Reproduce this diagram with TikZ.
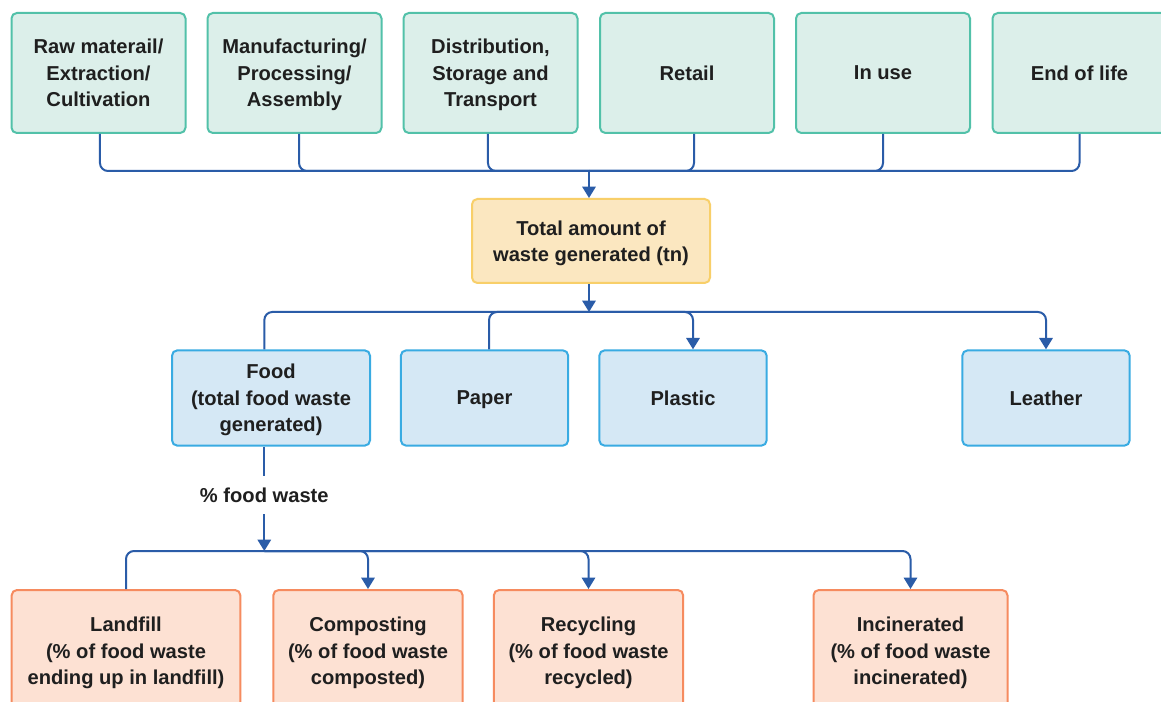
\documentclass[tikz,border=0pt]{standalone}
\usepackage{fontspec}
\setmainfont{Liberation Sans}
\usetikzlibrary{arrows.meta}
\definecolor{txt}{HTML}{1F1F1F}
\definecolor{linec}{HTML}{2A5CA8}
\definecolor{tealfill}{HTML}{DCEFEA}
\definecolor{tealdraw}{HTML}{52C1A9}
\definecolor{yelfill}{HTML}{FBE7C0}
\definecolor{yeldraw}{HTML}{F8CF69}
\definecolor{bluefill}{HTML}{D5E8F5}
\definecolor{bluedraw}{HTML}{39ABE2}
\definecolor{peachfill}{HTML}{FDE1D3}
\definecolor{peachdraw}{HTML}{F68B5F}
\tikzset{
  box/.style={rectangle, rounded corners=4pt, line width=1.5pt, align=center,
    text=txt, font=\bfseries\fontsize{15.1}{19.9}\selectfont, inner sep=0pt, text depth=0pt},
  topbox/.style={box, fill=tealfill, draw=tealdraw, minimum width=130.5pt, minimum height=90pt},
  totbox/.style={box, fill=yelfill, draw=yeldraw, minimum width=178.5pt, minimum height=63pt},
  midbox/.style={box, fill=bluefill, draw=bluedraw, minimum height=71.5pt},
  botbox/.style={box, fill=peachfill, draw=peachdraw, minimum height=91.5pt},
  conn/.style={draw=linec, line width=1.5pt, rounded corners=6pt},
  arr/.style={conn, -{Triangle[width=10pt,length=8.5pt]}},
  lbl/.style={text=txt, font=\bfseries\fontsize{15.1}{19.9}\selectfont, inner sep=0pt, minimum height=28.5pt}
}
\begin{document}
\begin{tikzpicture}[x=0.75pt,y=-0.75pt]
\clip (0,0) rectangle (1161,702);
\fill[white] (0,0) rectangle (1161,702);
% top row
\node[topbox] (b1) at (98.5,73) {Raw materail/\\Extraction/\\Cultivation};
\node[topbox] (b2) at (294.5,73) {Manufacturing/\\Processing/\\Assembly};
\node[topbox] (b3) at (490.5,73) {Distribution,\\Storage and\\Transport};
\node[topbox] (b4) at (687,73) {Retail};
\node[topbox] (b5) at (883,73) {In use};
\node[topbox] (b6) at (1079.5,73) {End of life};
% total
\node[totbox] (total) at (591,241) {Total amount of\\waste generated (tn)};
% middle row
\node[midbox, minimum width=148.5pt] (food) at (271,398) {Food\\(total food waste\\generated)};
\node[midbox, minimum width=125.5pt] (paper) at (484.5,398) {Paper};
\node[midbox, minimum width=125.5pt] (plastic) at (683,398) {Plastic};
\node[midbox, minimum width=125.5pt] (leather) at (1046,398) {Leather};
% label
\node[lbl] (pct) at (264.3,495) {\% food waste};
% bottom row
\node[botbox, minimum width=171.5pt] (landfill) at (126,651) {Landfill\\(\% of food waste\\ending up in landfill)};
\node[botbox, minimum width=142pt] (compost) at (368,651) {Composting\\(\% of food waste\\composted)};
\node[botbox, minimum width=142pt] (recycle) at (588.5,651) {Recycling\\(\% of food waste\\recycled)};
\node[botbox, minimum width=145.5pt] (incin) at (910.5,651) {Incinerated\\(\% of food waste\\incinerated)};
% junctions
\coordinate (j1) at (589,171);
\coordinate (j2) at (589,312);
\coordinate (j3) at (264.3,551);
% top connectors
\draw[conn] ([xshift=1.1pt]b1.south) |- (j1);
\draw[conn] ([xshift=3.4pt]b2.south) |- (j1);
\draw[conn] ([xshift=-1.9pt]b3.south) |- (j1);
\draw[conn] ([xshift=5.25pt]b4.south) |- (j1);
\draw[conn] (b5.south) |- (j1);
\draw[conn] (b6.south) |- (j1);
\draw[arr] (j1) -- (j1 |- total.north);
% middle connectors
\draw[arr] (total.south -| j2) -- (j2);
\draw[conn] (j2) -| ([xshift=-5pt]food.north);
\draw[conn] (j2) -| ([xshift=3.4pt]paper.north);
\draw[arr] (j2) -| ([xshift=7.5pt]plastic.north);
\draw[arr] (j2) -| (leather.north);
% bottom connectors
\draw[conn] (food.south -| pct.north) -- (pct.north);
\draw[arr] (pct.south) -- (j3);
\draw[conn] (j3) -| (landfill.north);
\draw[arr] (j3) -| (compost.north);
\draw[arr] (j3) -| (recycle.north);
\draw[arr] (j3) -| (incin.north);
\end{tikzpicture}
\end{document}
